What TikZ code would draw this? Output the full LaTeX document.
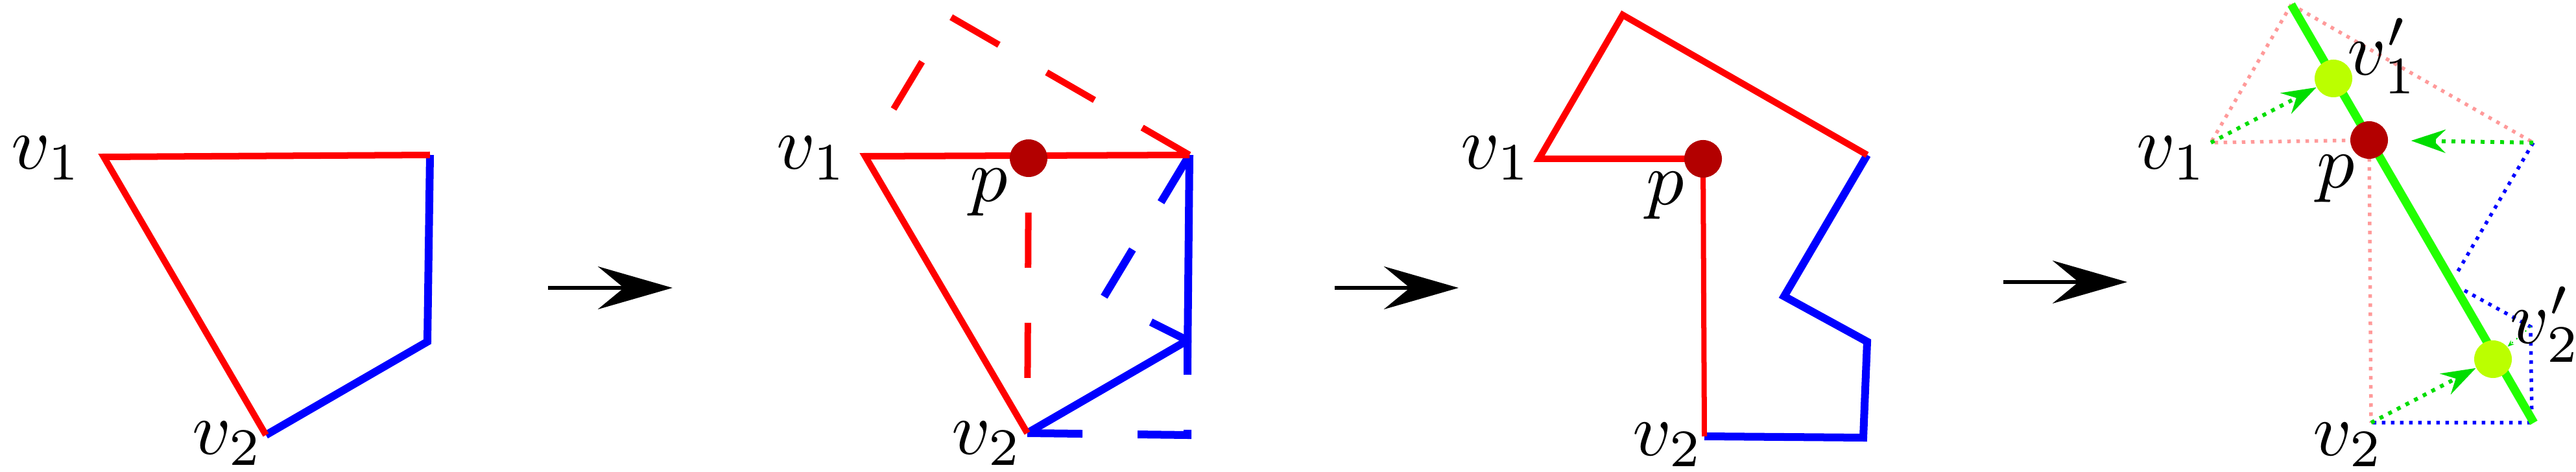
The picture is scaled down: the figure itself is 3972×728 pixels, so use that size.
\documentclass[tikz,border=0pt]{standalone}
\usepackage{graphicx}
\usetikzlibrary{arrows.meta}
\definecolor{pred}{HTML}{FF0000}
\definecolor{pblue}{HTML}{0000FF}
\definecolor{dred}{HTML}{B30000}
\definecolor{pink}{HTML}{FF9A9A}
\definecolor{gline}{HTML}{22FF00}
\definecolor{garrow}{HTML}{00DD00}
\definecolor{ygreen}{HTML}{BBFF00}
\newcommand{\mylabtxt}[1]{\scalebox{3.3}{$#1$}}
\tikzset{
  redline/.style={pred,line width=0.1cm,line join=miter},
  blueline/.style={pblue,line width=0.12cm},
  reddash/.style={redline,dash pattern=on 0.85cm off 0.85cm},
  bluedash/.style={blueline,dash pattern=on 0.85cm off 0.85cm},
  pinkdot/.style={pink,line width=0.055cm,dash pattern=on 0.055cm off 0.085cm},
  bluedot/.style={pblue,line width=0.055cm,dash pattern=on 0.055cm off 0.085cm},
  garr/.style={garrow,line width=0.06cm,dash pattern=on 0.06cm off 0.09cm,-{Stealth[length=0.53cm,width=0.36cm,inset=0.18cm,sep=0pt]}},
  bigarr/.style={black,line width=0.055cm,-{Stealth[length=1.15cm,width=0.66cm,inset=0.4cm]}},
  pdot/.style={circle,fill=dred,inner sep=0pt,minimum size=0.58cm},
  ydot/.style={circle,fill=ygreen,inner sep=0pt,minimum size=0.58cm},
  lab/.style={inner sep=0pt}
}
\begin{document}
\begin{tikzpicture}[x=0.01cm,y=-0.01cm]
\useasboundingbox (0,0) rectangle (3972,728);
% ---- panel 1
\coordinate (a1) at (160,242);
\coordinate (a2) at (663,239);
\coordinate (a3) at (659,527);
\coordinate (a4) at (410,671);
\draw[blueline] (a2) -- (a3) -- (a4);
\draw[redline] (a2) -- (a1) -- (a4);
\node[lab] (la1) at (72,244) {\mylabtxt{v_1}};
\node[lab] (la2) at (351,684) {\mylabtxt{v_2}};
\coordinate (r1s) at (845,444); \coordinate (r1e) at (1037,444);
\draw[bigarr] (r1s) -- (r1e);
% ---- panel 2
\coordinate (b1) at (1334,241);
\coordinate (bt) at (1464,25);
\coordinate (b2) at (1834,239);
\coordinate (b3) at (1831,552);
\coordinate (bj) at (1831,525);
\coordinate (bm) at (1701,460);
\coordinate (bbr) at (1831,671);
\coordinate (bv2) at (1584,668);
\coordinate (bp) at (1586,244);
\draw[reddash,dash phase=0.85cm] (b1) -- (bt) -- (b2);
\draw[reddash,dash phase=0.85cm] (bv2) -- (bp);
\draw[bluedash] (b2) -- (bm) -- (bj);
\draw[bluedash] (bv2) -- (bbr) -- (bj);
\draw[blueline] (b2) -- (b3);
\draw[blueline] (bv2) -- (bj);
\draw[redline] (b2) -- (b1) -- (bv2);
\node[pdot] (pd2) at (bp) {};
\node[lab] (lb1) at (1252,244) {\mylabtxt{v_1}};
\node[lab] (lbp) at (1525,297) {\mylabtxt{p}};
\node[lab] (lb2) at (1522,684) {\mylabtxt{v_2}};
\coordinate (r2s) at (2058,444); \coordinate (r2e) at (2249,444);
\draw[bigarr] (r2s) -- (r2e);
% ---- panel 3
\coordinate (c1) at (2373,245);
\coordinate (ct) at (2502,23);
\coordinate (c2) at (2879,239);
\coordinate (cm) at (2751,457);
\coordinate (c3) at (2879,527);
\coordinate (cbr) at (2873,675);
\coordinate (cv2) at (2628,673);
\coordinate (cp) at (2626,245);
\draw[blueline] (c2) -- (cm) -- (c3) -- (cbr) -- (cv2);
\draw[redline] (cp) -- (c1) -- (ct) -- (c2);
\draw[pred,line width=0.08cm] (cp) -- (cv2);
\node[pdot] (pd3) at (cp) {};
\node[lab] (lc1) at (2307,244) {\mylabtxt{v_1}};
\node[lab] (lcp) at (2568,302) {\mylabtxt{p}};
\node[lab] (lc2) at (2572,686) {\mylabtxt{v_2}};
\coordinate (r3s) at (3089,435); \coordinate (r3e) at (3280,435);
\draw[bigarr] (r3s) -- (r3e);
% ---- panel 4
\coordinate (d1) at (3409,220);
\coordinate (dt) at (3533,7);
\coordinate (d2) at (3906,220);
\coordinate (dv2) at (3656,652);
\coordinate (dbr) at (3904,652);
\coordinate (dm) at (3789,420);
\coordinate (dm2) at (3800,448);
\coordinate (dk) at (3902,504);
\coordinate (dge) at (3907,652);
\coordinate (dp) at (3653,216);
\draw[pinkdot] (dt) -- (d1) -- (dp) -- (dv2);
\draw[pinkdot] (dt) -- (d2);
\draw[bluedot] (d2) -- (dm);
\draw[bluedot] (dm2) -- (dk) -- (dbr) -- (dv2);
\draw[gline,line width=0.13cm] (dt) -- (dge);
\node[ydot] (y1) at (3598,121) {};
\node[ydot] (y2) at (3844,554) {};
\node[pdot] (pd4) at (dp) {};
\draw[garr] (d1) -- (y1);
\draw[garr] (dv2) -- (y2);
\draw[garr,shorten >=0.35cm] (d2) -- (pd4);
\draw[garrow,line width=0.02cm,dotted,-{Stealth[length=0.1cm,width=0.08cm]}] (dk) -- (y2);
\node[lab] (ld1) at (3349,244) {\mylabtxt{v_1}};
\node[lab] (ldp) at (3602,276) {\mylabtxt{p}};
\node[lab] (ld1p) at (3674,86) {\mylabtxt{v_1'}};
\node[lab] (ld2p) at (3925,500) {\mylabtxt{v_2'}};
\node[lab] (ld2) at (3621,686) {\mylabtxt{v_2}};
\end{tikzpicture}
\end{document}
